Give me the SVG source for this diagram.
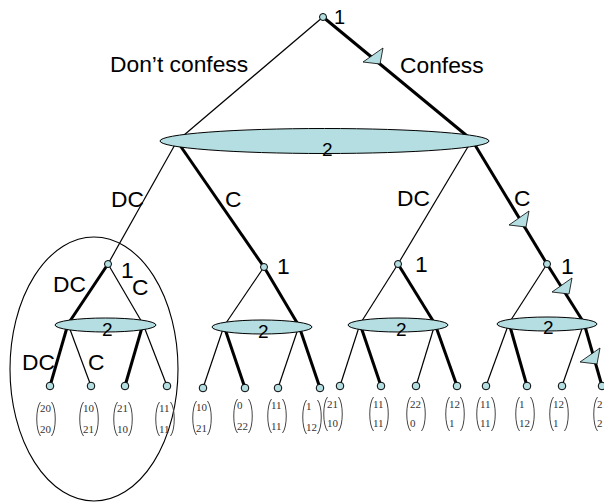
<svg xmlns="http://www.w3.org/2000/svg" xmlns:xlink="http://www.w3.org/1999/xlink" width="604" height="504" viewBox="0 0 604 504">
  <style>
    .thin { stroke: #000; stroke-width: 1.2; fill: none; }
    .thick { stroke: #000; stroke-width: 3; fill: none; }
    .info { fill: #b4dee1; stroke: #000; stroke-width: 1; }
    .node { fill: #b4dee1; stroke: #000; stroke-width: 1; }
    .lbl { font-family: "Liberation Sans", Arial, sans-serif; font-size: 22.8px; fill: #000; }
    .pl { font-family: "Liberation Sans", Arial, sans-serif; font-size: 19px; fill: #000; }
    .pay { font-family: "Liberation Serif", "Times New Roman", serif; font-size: 11px; fill: #333; }
    .par { fill: none; stroke: #444; stroke-width: 1; }
    .arrow { fill: #b4dee1; stroke: #000; stroke-width: 0.8; }
    .loop { fill: none; stroke: #000; stroke-width: 1.1; }
  </style>
  <defs>
    <!-- mid-line arrowhead marking the chosen move -->
    <polygon id="tri" class="arrow" points="0,0 20,-14 17,2"/>
    <!-- column payoff vector brackets, 20 wide, 34 tall -->
    <path id="brk" class="par" d="M4.5,0 C-0.5,6 -0.5,28 4.5,34 M15.5,0 C20.5,6 20.5,28 15.5,34"/>
  </defs>

  <rect width="604" height="504" fill="#fff"/>

  <!-- branches of the game tree -->
  <g id="connectors">
    <line class="thin" x1="323" y1="17" x2="177" y2="141"/>
    <line class="thick" x1="323" y1="17" x2="472" y2="140"/>

    <line class="thin" x1="177" y1="141" x2="108" y2="264"/>
    <line class="thick" x1="177" y1="141" x2="264" y2="267"/>
    <line class="thin" x1="472" y1="140" x2="398" y2="264"/>
    <line class="thick" x1="472" y1="140" x2="547" y2="264"/>

    <line class="thick" x1="108" y1="264" x2="68" y2="324"/>
    <line class="thin" x1="108" y1="264" x2="143" y2="324"/>
    <line class="thin" x1="264" y1="267" x2="224" y2="326"/>
    <line class="thick" x1="264" y1="267" x2="299" y2="326"/>
    <line class="thin" x1="398" y1="264" x2="360" y2="324"/>
    <line class="thick" x1="398" y1="264" x2="435" y2="324"/>
    <line class="thin" x1="547" y1="264" x2="509" y2="323"/>
    <line class="thick" x1="547" y1="264" x2="584" y2="323"/>

    <line class="thick" x1="68" y1="324" x2="50" y2="386"/>
    <line class="thin" x1="68" y1="324" x2="91" y2="386"/>
    <line class="thick" x1="143" y1="324" x2="125" y2="386"/>
    <line class="thin" x1="143" y1="324" x2="167" y2="386"/>

    <line class="thin" x1="224" y1="326" x2="203" y2="388"/>
    <line class="thick" x1="224" y1="326" x2="245" y2="388"/>
    <line class="thin" x1="299" y1="326" x2="278" y2="388"/>
    <line class="thick" x1="299" y1="326" x2="320" y2="388"/>

    <line class="thin" x1="360" y1="324" x2="340" y2="386"/>
    <line class="thick" x1="360" y1="324" x2="381" y2="386"/>
    <line class="thin" x1="435" y1="324" x2="416" y2="386"/>
    <line class="thick" x1="435" y1="324" x2="457" y2="386"/>

    <line class="thin" x1="509" y1="323" x2="486" y2="386"/>
    <line class="thick" x1="509" y1="323" x2="527" y2="386"/>
    <line class="thin" x1="584" y1="323" x2="562" y2="386"/>
    <line class="thick" x1="584" y1="323" x2="602" y2="386"/>

    <!-- equilibrium path arrows -->
    <use xlink:href="#tri" x="363" y="62"/>
    <use xlink:href="#tri" x="509" y="225"/>
    <use xlink:href="#tri" x="552" y="292"/>
    <use xlink:href="#tri" x="580" y="362"/>
  </g>

  <!-- move labels -->
  <g id="move-labels">
    <text class="lbl" x="110" y="72">Don’t confess</text>
    <text class="lbl" x="400" y="73">Confess</text>
    <text class="lbl" x="111" y="207">DC</text>
    <text class="lbl" x="225" y="207">C</text>
    <text class="lbl" x="397" y="206">DC</text>
    <text class="lbl" x="514" y="206">C</text>
    <text class="lbl" x="53" y="292">DC</text>
    <text class="lbl" x="132" y="295">C</text>
    <text class="lbl" x="22" y="370">DC</text>
    <text class="lbl" x="88" y="370">C</text>
  </g>

  <!-- player 1, first move -->
  <g id="root">
    <circle class="node" cx="323" cy="17" r="3.5"/>
    <text class="lbl" x="334" y="24" style="font-size:20px">1</text>
  </g>

  <!-- player 2 information set, first round -->
  <g id="p2-round1">
    <ellipse class="info" cx="324.5" cy="141" rx="164.5" ry="12.5"/>
    <text class="pl" x="322" y="156">2</text>
  </g>

  <!-- second-round subgames -->
  <g id="sub-dc-dc">
    <circle class="node" cx="108" cy="264" r="3.5"/>
    <text class="lbl" x="121" y="278">1</text>
    <ellipse class="info" cx="105.5" cy="325" rx="50.5" ry="7"/>
    <text class="pl" x="102" y="336">2</text>
  </g>
  <g id="sub-dc-c">
    <circle class="node" cx="264" cy="267" r="3.5"/>
    <text class="lbl" x="277" y="274">1</text>
    <ellipse class="info" cx="262" cy="327" rx="50" ry="7"/>
    <text class="pl" x="258" y="338">2</text>
  </g>
  <g id="sub-c-dc">
    <circle class="node" cx="398" cy="264" r="3.5"/>
    <text class="lbl" x="415" y="272">1</text>
    <ellipse class="info" cx="398" cy="325" rx="50" ry="7"/>
    <text class="pl" x="396" y="336">2</text>
  </g>
  <g id="sub-c-c">
    <circle class="node" cx="547" cy="264" r="3.5"/>
    <text class="lbl" x="561" y="274">1</text>
    <ellipse class="info" cx="547" cy="324" rx="50" ry="7"/>
    <text class="pl" x="543" y="334">2</text>
  </g>

  <!-- subgame highlight -->
  <ellipse id="subgame-ring" class="loop" cx="94" cy="369" rx="84" ry="132"/>

  <!-- terminal nodes with payoff vectors -->
  <g id="leaf-1"><circle class="node" cx="50" cy="386" r="3.8"/><use xlink:href="#brk" x="36" y="402"/><text class="pay" x="40" y="412">20</text><text class="pay" x="40" y="433">20</text></g>
  <g id="leaf-2"><circle class="node" cx="91" cy="386" r="3.8"/><use xlink:href="#brk" x="79" y="402"/><text class="pay" x="83" y="412">10</text><text class="pay" x="83" y="433">21</text></g>
  <g id="leaf-3"><circle class="node" cx="125" cy="386" r="3.8"/><use xlink:href="#brk" x="113" y="402"/><text class="pay" x="117" y="412">21</text><text class="pay" x="117" y="433">10</text></g>
  <g id="leaf-4"><circle class="node" cx="167" cy="386" r="3.8"/><use xlink:href="#brk" x="155" y="402"/><text class="pay" x="159" y="412">11</text><text class="pay" x="159" y="433">11</text></g>

  <g id="leaf-5"><circle class="node" cx="203" cy="388" r="3.8"/><use xlink:href="#brk" x="192" y="401"/><text class="pay" x="196" y="411">10</text><text class="pay" x="196" y="432">21</text></g>
  <g id="leaf-6"><circle class="node" cx="245" cy="388" r="3.8"/><use xlink:href="#brk" x="233" y="399"/><text class="pay" x="237" y="409">0</text><text class="pay" x="237" y="430">22</text></g>
  <g id="leaf-7"><circle class="node" cx="278" cy="388" r="3.8"/><use xlink:href="#brk" x="267" y="399"/><text class="pay" x="271" y="409">11</text><text class="pay" x="271" y="430">11</text></g>
  <g id="leaf-8"><circle class="node" cx="320" cy="388" r="3.8"/><use xlink:href="#brk" x="302" y="400"/><text class="pay" x="306" y="410">1</text><text class="pay" x="306" y="431">12</text></g>

  <g id="leaf-9"><circle class="node" cx="340" cy="386" r="3.8"/><use xlink:href="#brk" x="323" y="397"/><text class="pay" x="327" y="408">21</text><text class="pay" x="327" y="427">10</text></g>
  <g id="leaf-10"><circle class="node" cx="381" cy="386" r="3.8"/><use xlink:href="#brk" x="369" y="397"/><text class="pay" x="373" y="408">11</text><text class="pay" x="373" y="427">11</text></g>
  <g id="leaf-11"><circle class="node" cx="416" cy="386" r="3.8"/><use xlink:href="#brk" x="406" y="397"/><text class="pay" x="410" y="408">22</text><text class="pay" x="410" y="427">0</text></g>
  <g id="leaf-12"><circle class="node" cx="457" cy="386" r="3.8"/><use xlink:href="#brk" x="445" y="397"/><text class="pay" x="449" y="408">12</text><text class="pay" x="449" y="427">1</text></g>

  <g id="leaf-13"><circle class="node" cx="486" cy="386" r="3.8"/><use xlink:href="#brk" x="476" y="397"/><text class="pay" x="480" y="408">11</text><text class="pay" x="480" y="427">11</text></g>
  <g id="leaf-14"><circle class="node" cx="527" cy="386" r="3.8"/><use xlink:href="#brk" x="515" y="397"/><text class="pay" x="519" y="408">1</text><text class="pay" x="519" y="427">12</text></g>
  <g id="leaf-15"><circle class="node" cx="562" cy="386" r="3.8"/><use xlink:href="#brk" x="549" y="397"/><text class="pay" x="553" y="408">12</text><text class="pay" x="553" y="427">1</text></g>
  <g id="leaf-16"><circle class="node" cx="602" cy="386" r="3.8"/><use xlink:href="#brk" x="593" y="397"/><text class="pay" x="597" y="408">2</text><text class="pay" x="597" y="427">2</text></g>
</svg>
